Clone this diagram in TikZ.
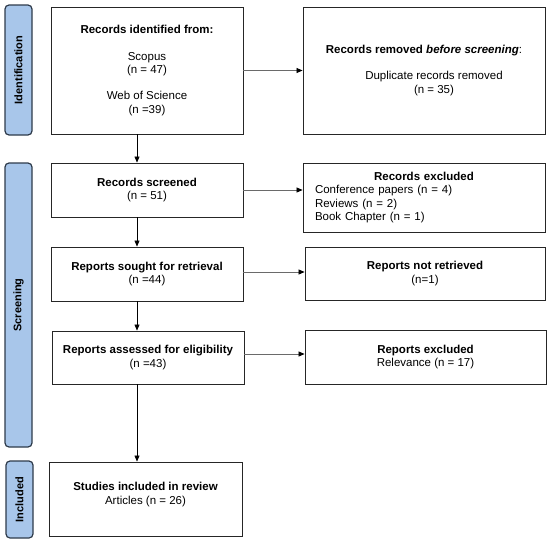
\documentclass[tikz,border=0pt]{standalone}
\usepackage{fontspec}
\setsansfont{Liberation Sans}
\usepackage{tikz}
\usetikzlibrary{arrows.meta, positioning}
\definecolor{phaseblue}{HTML}{A8C6EA}
\definecolor{phaseedge}{HTML}{2E3B4B}
\definecolor{flowgrey}{HTML}{6A6A6A}

\begin{document}
\begin{tikzpicture}[x=1pt, y=-1pt, font=\sffamily\fontsize{11.5}{13.3}\selectfont,
  box/.style={draw=black!85, line width=0.9pt, fill=white, align=center, inner sep=0pt},
  phase/.style={draw=phaseedge, fill=phaseblue, line width=1.2pt, rounded corners=4pt,
    rotate=90, inner sep=0pt, minimum height=27pt,
    font=\sffamily\bfseries\fontsize{11}{13}\selectfont},
  flow/.style={-{Triangle[length=6pt, width=5pt]}, line width=0.6pt, black},
  side/.style={-{Triangle[length=6pt, width=5pt, color=black]}, line width=0.7pt, flowgrey}]
\useasboundingbox (0,0) rectangle (550,541);

% phase bars
\node[phase, minimum width=130pt] (idbar) at (18.5,70) {Identification};
\node[phase, minimum width=284pt] (scbar) at (18.5,305) {Screening};
\node[phase, minimum width=77pt] (inbar) at (19.5,499.5) {Included};

% main column
\node[box, minimum width=192pt, minimum height=127pt] (found) at (147,70.5)
  {\textbf{Records identified from:}\\[13pt]
   Scopus\\(n = 47)\\[13pt]
   Web of Science\\(n =39)};
\node[box, minimum width=192pt, minimum height=54pt] (screened) at (147,190)
  {\textbf{Records screened}\\(n = 51)};
\node[box, minimum width=192pt, minimum height=54pt] (sought) at (147,274)
  {\textbf{Reports sought for retrieval}\\(n =44)};
\node[box, minimum width=192pt, minimum height=53pt] (assessed) at (148,357.5)
  {\textbf{Reports assessed for eligibility}\\(n =43)};
\node[box, minimum width=193pt, minimum height=74pt] (included) at (145.5,499)
  {\textbf{Studies included in review}\\Articles (n = 26)\\[-2pt]\mbox{}};

% side column
\node[box, minimum width=242pt, minimum height=127pt] (removed) at (424,70.5)
  {\textbf{Records removed \textit{before screening}}:\\[13pt]
   \hspace*{20pt}Duplicate records removed\\\hspace*{20pt}(n = 35)};
\node[box, align=left, text width=218pt, minimum width=242pt, minimum height=69pt]
  (excluded) at (424,197.5)
  {\makebox[218pt]{\textbf{Records excluded}}\\
   Conference papers (n = 4)\\
   Reviews (n = 2)\\
   Book Chapter (n = 1)};
\node[box, minimum width=240pt, minimum height=53pt] (notfound) at (425,273.5)
  {\textbf{Reports not retrieved}\\(n=1)};
\node[box, minimum width=241pt, minimum height=54pt] (dropped) at (425.5,357)
  {\textbf{Reports excluded}\\Relevance (n = 17)};

% connectors
\coordinate (spine) at (137,0);
\draw[flow] (found.south -| spine) -- (screened.north -| spine);
\draw[flow] (screened.south -| spine) -- (sought.north -| spine);
\draw[flow] (sought.south -| spine) -- (assessed.north -| spine);
\draw[flow] (assessed.south -| spine) -- (included.north -| spine);
\draw[side] (found.east) -- (found.east -| removed.west);
\draw[side] (screened.east) -- (screened.east -| excluded.west);
\draw[side] ([yshift=2pt]sought.east) -- ([yshift=2pt]sought.east -| notfound.west);
\draw[side] ([yshift=3.5pt]assessed.east) -- ([yshift=3.5pt]assessed.east -| dropped.west);
\end{tikzpicture}
\end{document}
